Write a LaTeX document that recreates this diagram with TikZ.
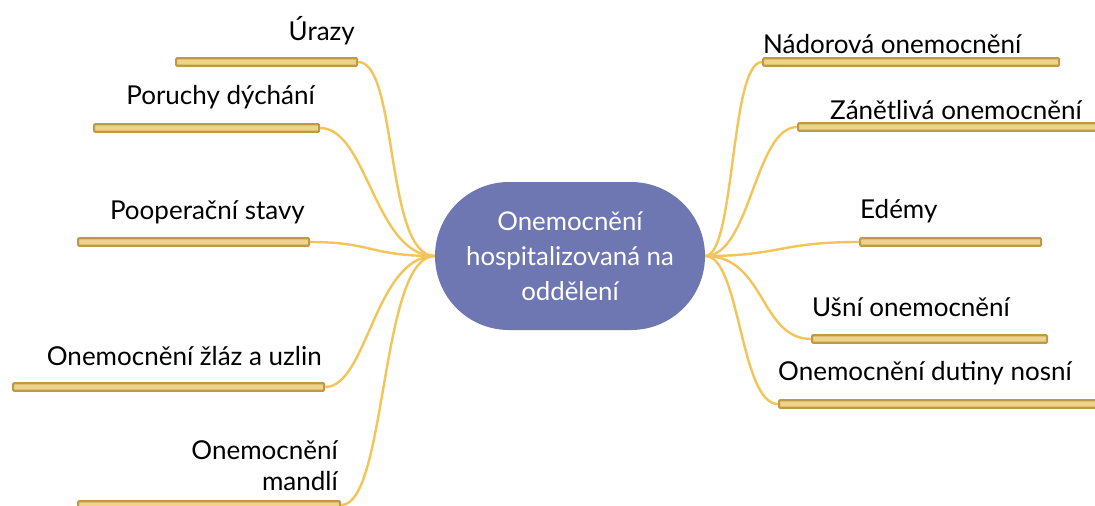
\documentclass[tikz,border=0pt]{standalone}
\usepackage{fontspec}
\setmainfont{Lato}
\begin{document}
\begin{tikzpicture}[x=1pt,y=-1pt,
  bar/.style={draw=barline,fill=barfill,line width=2.2pt,rounded corners=1pt,minimum height=7.5pt,inner sep=0pt,anchor=west},
  conn/.style={draw=connc,line width=2.4pt},
  lbl/.style={font=\fontsize{26}{31}\selectfont,inner sep=0pt,text=black},
  hub/.style={fill=hubc,rounded corners=74pt,minimum width=270pt,minimum height=148pt,text=white,align=center,font=\fontsize{25.8}{35}\selectfont,inner sep=0pt}]
\definecolor{barline}{HTML}{BF9A45}
\definecolor{barfill}{HTML}{EED38D}
\definecolor{connc}{HTML}{F3C457}
\definecolor{hubc}{HTML}{6E77B2}
\useasboundingbox (0,0) rectangle (1095,506);
\clip (0,0) rectangle (1095,506);

\node[hub] (c) at (570,256) {Onemocnění\\hospitalizovaná na\\oddělení};

% bars
\node[bar,minimum width=181pt] (b1) at (175,62) {};
\node[bar,minimum width=225pt] (b2) at (93,128) {};
\node[bar,minimum width=231pt] (b3) at (77,242) {};
\node[bar,minimum width=311pt] (b4) at (12,387) {};
\node[bar,minimum width=262pt] (b5) at (77,505) {};
\node[bar,minimum width=296pt] (r1) at (762,62) {};
\node[bar,minimum width=310pt] (r2) at (797,127) {};
\node[bar,minimum width=181pt] (r3) at (859,242) {};
\node[bar,minimum width=235pt] (r4) at (811,339) {};
\node[bar,minimum width=330pt] (r5) at (778,404) {};

% connectors
\draw[conn] (c.west) .. controls +(-50,0) and +(40,0) .. (b1.east);
\draw[conn] (c.west) .. controls +(-60,0) and +(47,0) .. (b2.east);
\draw[conn] (c.west) .. controls +(-65,0) and +(62,0) .. (b3.east);
\draw[conn] (c.west) .. controls +(-60,0) and +(42,0) .. (b4.east);
\draw[conn] (c.west) .. controls +(-55,0) and +(46,0) .. (b5.east);
\draw[conn] (c.east) .. controls +(30,0) and +(-32,0) .. (r1.west);
\draw[conn] (c.east) .. controls +(45,0) and +(-42,0) .. (r2.west);
\draw[conn] (c.east) .. controls +(75,0) and +(-80,0) .. (r3.west);
\draw[conn] (c.east) .. controls +(60,0) and +(-51,0) .. (r4.west);
\draw[conn] (c.east) .. controls +(35,0) and +(-38,0) .. (r5.west);

% labels
\node[lbl,anchor=base east] (t1) at (355,40) {Úrazy};
\node[lbl,anchor=base east] (t2) at (315,104) {Poruchy dýchání};
\node[lbl,anchor=base east] (t3) at (305,219) {Pooperační stavy};
\node[lbl,anchor=base east] (t4) at (322,365) {Onemocnění žláz a uzlin};
\node[lbl,anchor=base east] (t5) at (338,459) {Onemocnění};
\node[lbl,anchor=base east] (t6) at (338,490) {mandlí};
\node[lbl,anchor=base west] (u1) at (763,53) {Nádorová onemocnění};
\node[lbl,anchor=base west] (u2) at (830,119) {Zánětlivá onemocnění};
\node[lbl,anchor=base west] (u3) at (860,218) {Edémy};
\node[lbl,anchor=base west] (u4) at (812,316) {Ušní onemocnění};
\node[lbl,anchor=base west] (u5) at (778,380) {Onemocnění dutiny nosní};
\end{tikzpicture}
\end{document}
